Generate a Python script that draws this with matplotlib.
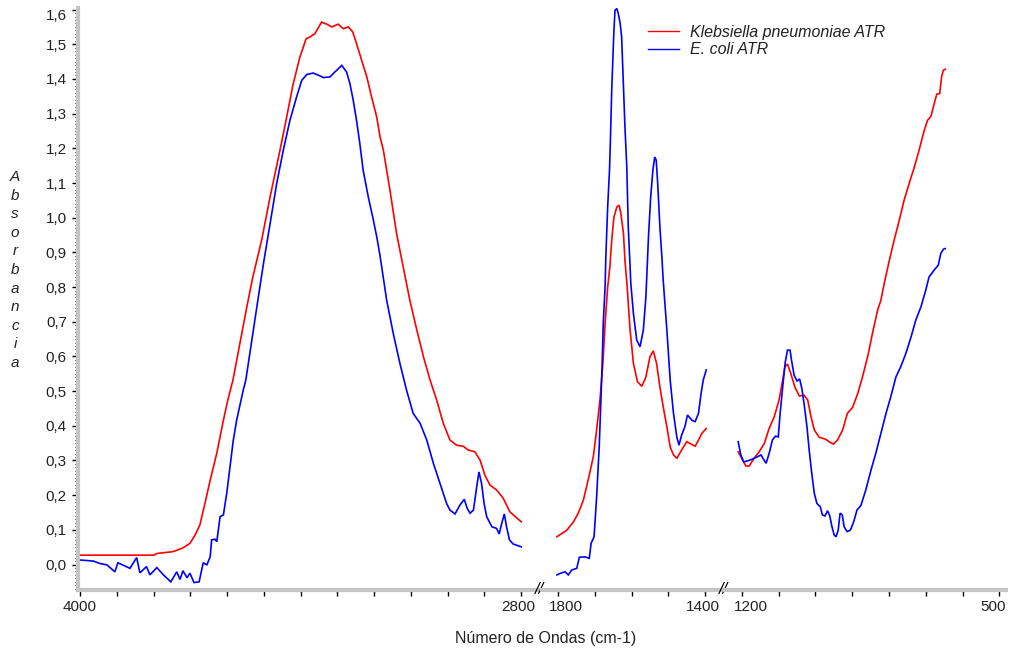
import numpy as np
import matplotlib
matplotlib.use("Agg")
import matplotlib.pyplot as plt
from matplotlib.transforms import blended_transform_factory, ScaledTranslation

plt.rcParams['font.family'] = ['Liberation Sans', 'DejaVu Sans']

# ---------------- data (wavenumber cm-1, absorbance) ----------------
kleb_seg1_wn = [4000, 3800, 3790, 3747, 3720, 3701, 3687, 3674, 3660, 3646, 3628, 3610, 3598, 3584, 3547,
                3530, 3506, 3483, 3456, 3438, 3420, 3402, 3385, 3375, 3361, 3343, 3329, 3315, 3298, 3284,
                3270, 3258, 3248, 3234, 3220, 3207, 3193, 3184, 3175, 3157, 3139, 3121, 3103, 3084, 3066,
                3048, 3030, 3012, 2994, 2976, 2958, 2944, 2926, 2912, 2899, 2885, 2867, 2849, 2831, 2800]
kleb_seg1_abs = [0.027, 0.027, 0.032, 0.037, 0.048, 0.061, 0.085, 0.114, 0.177, 0.243, 0.321, 0.416, 0.474, 0.532, 0.739,
                 0.829, 0.935, 1.060, 1.195, 1.290, 1.387, 1.463, 1.516, 1.521, 1.531, 1.564, 1.558, 1.550, 1.558, 1.545,
                 1.550, 1.535, 1.502, 1.454, 1.406, 1.348, 1.290, 1.233, 1.195, 1.079, 0.954, 0.858, 0.762, 0.676, 0.599,
                 0.532, 0.474, 0.407, 0.359, 0.344, 0.341, 0.330, 0.325, 0.301, 0.258, 0.229, 0.215, 0.191, 0.152, 0.123]

ecoli_seg1_wn = [4000, 3964, 3946, 3927, 3905, 3897, 3864, 3846, 3837, 3819, 3810, 3791, 3773, 3753, 3737,
                 3728, 3720, 3709, 3701, 3690, 3676, 3665, 3655, 3646, 3642, 3633, 3628, 3619, 3610, 3601,
                 3592, 3583, 3574, 3556, 3549, 3519, 3501, 3483, 3465, 3447, 3429, 3411, 3397, 3383, 3366,
                 3352, 3338, 3320, 3307, 3288, 3275, 3266, 3257, 3248, 3239, 3230, 3216, 3204, 3193, 3184,
                 3166, 3148, 3130, 3112, 3094, 3075, 3057, 3039, 3021, 3003, 2994, 2980, 2967, 2955, 2947,
                 2939, 2930, 2921, 2915, 2908, 2901, 2894, 2880, 2867, 2860, 2853, 2846, 2840, 2832, 2822, 2800]
ecoli_seg1_abs = [0.013, 0.010, 0.003, -0.001, -0.021, 0.005, -0.011, 0.020, -0.024, -0.006, -0.030, -0.009, -0.030, -0.050, -0.021,
                  -0.043, -0.018, -0.038, -0.025, -0.052, -0.050, 0.005, -0.001, 0.022, 0.071, 0.073, 0.066, 0.138, 0.143, 0.205,
                  0.282, 0.359, 0.416, 0.503, 0.532, 0.743, 0.868, 0.983, 1.099, 1.195, 1.281, 1.348, 1.396, 1.413, 1.417,
                  1.411, 1.404, 1.406, 1.420, 1.439, 1.420, 1.387, 1.339, 1.281, 1.214, 1.137, 1.060, 1.002, 0.945, 0.890,
                  0.762, 0.666, 0.580, 0.503, 0.436, 0.407, 0.359, 0.292, 0.234, 0.176, 0.157, 0.146, 0.171, 0.188, 0.162,
                  0.148, 0.157, 0.225, 0.267, 0.234, 0.176, 0.138, 0.109, 0.104, 0.088, 0.119, 0.146, 0.109, 0.071, 0.059, 0.051]

kleb_seg2_wn = [1803, 1776, 1758, 1745, 1731, 1718, 1704, 1695, 1686, 1678, 1672, 1665, 1659, 1654, 1648,
                1640, 1634, 1629, 1622, 1618, 1612, 1604, 1595, 1584, 1572, 1561, 1550, 1541, 1532, 1523,
                1514, 1504, 1495, 1486, 1477, 1464, 1450, 1441, 1427, 1418, 1409, 1397]
kleb_seg2_abs = [0.080, 0.099, 0.123, 0.148, 0.186, 0.244, 0.311, 0.388, 0.474, 0.580, 0.695, 0.800, 0.858, 0.935, 1.002,
                 1.031, 1.036, 1.012, 0.954, 0.877, 0.801, 0.676, 0.580, 0.527, 0.514, 0.541, 0.599, 0.616, 0.580, 0.512,
                 0.455, 0.397, 0.339, 0.316, 0.306, 0.330, 0.354, 0.349, 0.341, 0.359, 0.378, 0.392]

ecoli_seg2_wn = [1803, 1795, 1781, 1772, 1763, 1749, 1742, 1727, 1715, 1710, 1702, 1695, 1688, 1683, 1680,
                 1677, 1672, 1670, 1665, 1660, 1657, 1654, 1651, 1648, 1645, 1640, 1636, 1631, 1627, 1622,
                 1618, 1613, 1609, 1602, 1595, 1586, 1577, 1568, 1561, 1554, 1548, 1542, 1537, 1533, 1529,
                 1523, 1517, 1514, 1504, 1495, 1486, 1477, 1471, 1464, 1455, 1448, 1436, 1427, 1418, 1411, 1405, 1397]
ecoli_seg2_abs = [-0.030, -0.026, -0.021, -0.030, -0.016, -0.011, 0.021, 0.022, 0.018, 0.061, 0.080, 0.195, 0.339, 0.484, 0.580,
                  0.695, 0.800, 0.887, 1.031, 1.137, 1.243, 1.367, 1.454, 1.540, 1.598, 1.603, 1.588, 1.560, 1.521, 1.377,
                  1.262, 1.146, 0.974, 0.810, 0.724, 0.647, 0.628, 0.676, 0.772, 0.945, 1.060, 1.137, 1.175, 1.166, 1.099,
                  0.974, 0.877, 0.820, 0.676, 0.532, 0.436, 0.368, 0.344, 0.373, 0.397, 0.431, 0.416, 0.412, 0.436, 0.493, 0.532, 0.561]

kleb_seg3_wn = [1210, 1198, 1189, 1180, 1167, 1153, 1139, 1126, 1112, 1099, 1089, 1083, 1076, 1067, 1056,
                1044, 1031, 1021, 1012, 1003, 990, 972, 963, 951, 940, 926, 913, 899, 885, 872,
                858, 845, 831, 822, 813, 799, 786, 772, 759, 745, 731, 718, 704, 695, 686,
                677, 670, 662, 657, 652, 647]
kleb_seg3_abs = [0.325, 0.301, 0.284, 0.284, 0.306, 0.325, 0.349, 0.392, 0.426, 0.474, 0.532, 0.570, 0.578, 0.551, 0.512,
                 0.486, 0.488, 0.474, 0.426, 0.388, 0.367, 0.361, 0.354, 0.347, 0.359, 0.388, 0.436, 0.453, 0.493, 0.541,
                 0.599, 0.666, 0.733, 0.762, 0.810, 0.877, 0.935, 0.993, 1.050, 1.099, 1.146, 1.195, 1.252, 1.281, 1.292,
                 1.329, 1.356, 1.358, 1.406, 1.425, 1.428]

ecoli_seg3_wn = [1210, 1203, 1195, 1184, 1171, 1157, 1148, 1141, 1134, 1126, 1117, 1109, 1101, 1096, 1089,
                 1082, 1076, 1069, 1065, 1058, 1050, 1043, 1037, 1031, 1023, 1017, 1010, 1003, 996, 987,
                 981, 974, 967, 961, 955, 949, 944, 938, 933, 927, 922, 914, 905, 896, 887,
                 876, 863, 849, 836, 822, 808, 795, 781, 768, 754, 740, 727, 713, 700, 691,
                 677, 666, 659, 652, 647]
ecoli_seg3_abs = [0.354, 0.316, 0.296, 0.299, 0.304, 0.311, 0.316, 0.303, 0.292, 0.320, 0.359, 0.370, 0.368, 0.436, 0.512,
                  0.584, 0.618, 0.618, 0.589, 0.546, 0.529, 0.535, 0.508, 0.465, 0.397, 0.330, 0.263, 0.205, 0.176, 0.167,
                  0.143, 0.140, 0.155, 0.140, 0.109, 0.085, 0.080, 0.099, 0.148, 0.143, 0.109, 0.095, 0.099, 0.123, 0.157,
                  0.171, 0.215, 0.272, 0.320, 0.378, 0.436, 0.484, 0.541, 0.570, 0.609, 0.656, 0.705, 0.743, 0.791, 0.829,
                  0.849, 0.863, 0.897, 0.909, 0.911]

series_names = ["Klebsiella pneumoniae ATR", "E. coli ATR"]
series_colors = ["#ff0000", "#0000ff"]

segment_ranges = [(4005.4, 2750), (1850, 1350), (1250, 476.4)]
segment_ticks = [list(range(4000, 2799, -100)), list(range(1800, 1399, -100)), list(range(1200, 499, -100))]
tick_labels = [(4000, "4000"), (2800, "2800"), (1800, "1800"), (1400, "1400"), (1200, "1200"), (500, "500")]
y_ticks = [round(0.1 * i, 1) for i in range(17)]

kleb = [(kleb_seg1_wn, kleb_seg1_abs), (kleb_seg2_wn, kleb_seg2_abs), (kleb_seg3_wn, kleb_seg3_abs)]
ecoli = [(ecoli_seg1_wn, ecoli_seg1_abs), (ecoli_seg2_wn, ecoli_seg2_abs), (ecoli_seg3_wn, ecoli_seg3_abs)]

# ---------------- layout ----------------
W, H = 1013, 654
fig = plt.figure(figsize=(W / 100, H / 100), dpi=100)
pxu = 0.36772          # pixels per cm-1
left_px = 78
bottom = 64 / H
height = 582 / H
ylim = (-0.0735, 1.6046)
spine_col = "#c4c4c4"
txt_col = "#222222"

axes = []
xpos = left_px
for i, (a, b) in enumerate(segment_ranges):
    wpx = abs(a - b) * pxu
    ax = fig.add_axes([xpos / W, bottom, wpx / W, height])
    xpos += wpx
    ax.set_xlim(a, b)
    ax.set_ylim(*ylim)
    ax.patch.set_alpha(0)
    for s in ("top", "right"):
        ax.spines[s].set_visible(False)
    ax.spines["bottom"].set_color(spine_col)
    ax.spines["bottom"].set_linewidth(3)
    ax.spines["bottom"].set_capstyle("butt")
    ax.set_xticks(segment_ticks[i])
    ax.tick_params(axis="x", direction="out", length=4, width=1, color="black", labelbottom=False)
    if i == 0:
        ax.spines["left"].set_color(spine_col)
        ax.spines["left"].set_linewidth(3)
        ax.set_yticks(y_ticks)
        ax.set_yticklabels([f"{v:.1f}".replace(".", ",") for v in y_ticks])
        ax.set_yticks(np.arange(-0.07, 1.605, 0.01), minor=True)
        ax.tick_params(axis="y", which="major", direction="out", length=4, width=1, color="black",
                       labelsize=11, labelcolor=txt_col, pad=4)
        ax.tick_params(axis="y", which="minor", direction="out", length=2, width=0.8, color="black")
        ax.tick_params(axis="x", which="minor", bottom=False)
    else:
        ax.spines["left"].set_visible(False)
        ax.tick_params(axis="y", which="both", left=False, labelleft=False)
    axes.append(ax)

lines = []
for ax, (kw, ka), (ew, ea) in zip(axes, kleb, ecoli):
    l1, = ax.plot(kw, ka, color=series_colors[0], lw=1.2, solid_joinstyle="miter")
    l2, = ax.plot(ew, ea, color=series_colors[1], lw=1.2, solid_joinstyle="miter")
    lines.append((l1, l2))

# shift top y tick label slightly down (as in the reference)
top_lab = axes[0].get_yticklabels()[-1]
top_lab.set_transform(top_lab.get_transform() + ScaledTranslation(0, -5 / 100, fig.dpi_scale_trans))

# x tick labels (only at segment ends)
label_dx = {4000: 0, 2800: -3, 1800: 8, 1400: -2, 1200: 9, 500: -6}
for w, s in tick_labels:
    ax = axes[0] if w >= 2800 else (axes[1] if w >= 1400 else axes[2])
    tr = blended_transform_factory(ax.transData, ax.transAxes) + \
        ScaledTranslation(label_dx[w] / 100, -17 / 100, fig.dpi_scale_trans)
    ax.text(w, 0, s, transform=tr, ha="center", va="center", fontsize=11, color=txt_col)

# axis break marks
for ax in axes[:2]:
    ax.text(1, 0, "//", transform=ax.transAxes, ha="center", va="center", fontsize=12,
            style="italic", color="black", clip_on=False, zorder=5)

# axis titles
fig.text(546 / W, 1 - 638 / H, "Número de Ondas (cm-1)", ha="center", va="center",
         fontsize=11.5, color=txt_col)
fig.text(15 / W, 1 - 270 / H, "\n".join("Absorbancia"), ha="center", va="center",
         fontsize=11, style="italic", color=txt_col, linespacing=1.42)

# legend
leg = fig.legend(handles=list(lines[0]), labels=series_names, loc="upper left",
                 bbox_to_anchor=(648 / W, 1 - 25 / H), frameon=False,
                 prop=dict(style="italic", size=11.5), handlelength=1.95, handletextpad=0.7,
                 labelspacing=0.15, borderaxespad=0, borderpad=0)
for t in leg.get_texts():
    t.set_color(txt_col)
for lh in leg.get_lines():
    lh.set_linewidth(1.0)

fig.savefig("out.png", dpi=100)
